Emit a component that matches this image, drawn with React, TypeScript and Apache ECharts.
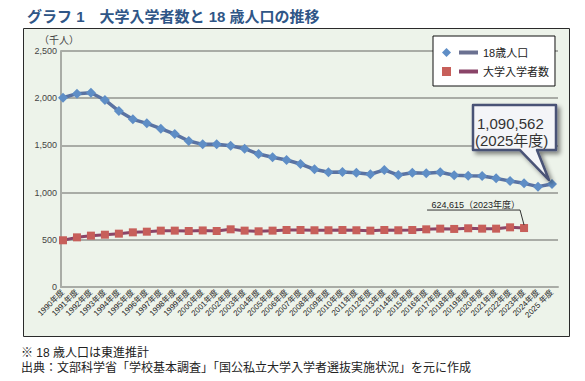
import React, { useEffect, useRef } from 'react';
import * as echarts from 'echarts';

const categories = [
  '1990年度', '1991年度', '1992年度', '1993年度', '1994年度', '1995年度', '1996年度', '1997年度', '1998年度',
  '1999年度', '2000年度', '2001年度', '2002年度', '2003年度', '2004年度', '2005年度', '2006年度', '2007年度',
  '2008年度', '2009年度', '2010年度', '2011年度', '2012年度', '2013年度', '2014年度', '2015年度', '2016年度',
  '2017年度', '2018年度', '2019年度', '2020年度', '2021年度', '2022年度', '2023年度', '2024年度', '2025 年度',
];

// 18歳人口 (千人)
const pop18 = [
  2005, 2048, 2058, 1981, 1864, 1776, 1734, 1677, 1620, 1547, 1511, 1511, 1497, 1465, 1409, 1374, 1345, 1303,
  1247, 1215, 1218, 1211, 1194, 1240, 1186, 1211, 1204, 1215, 1183, 1179, 1176, 1151, 1123, 1098, 1063, 1090.562,
];

// 大学入学者数 (千人), 1990–2023
const entrants = [
  495, 526, 544, 554, 565, 579, 586, 597, 597, 593, 599, 593, 611, 597, 590, 597, 604,
  604, 601, 601, 604, 601, 597, 604, 601, 604, 611, 618, 615, 622, 618, 618, 632, 624.615,
];

const yTicks = [0, 500, 1000, 1500, 2000, 2500];

const FONT = "'Liberation Sans', 'Noto Sans CJK JP', sans-serif";
const GRID = '#a9aca6';

export default function App() {
  const ref = useRef<HTMLDivElement>(null);
  useEffect(() => {
    if (!ref.current) return;
    const chart = echarts.init(ref.current, undefined, { renderer: 'svg' });
    const option: any = {
      animation: false,
      textStyle: { fontFamily: FONT },
      title: [
        {
          text: 'グラフ 1　大学入学者数と 18 歳人口の推移',
          left: 22,
          top: 4,
          textStyle: { fontSize: 15, fontWeight: 'bold', color: '#2f5687', fontFamily: FONT },
        },
        {
          text: '※ 18 歳人口は東進推計\n出典：文部科学省「学校基本調査」「国公私立大学入学者選抜実施状況」を元に作成',
          left: 21,
          top: 345,
          padding: 0,
          textStyle: { fontSize: 12, fontWeight: 'normal', color: '#222', lineHeight: 15, fontFamily: FONT },
        },
      ],
      grid: [
        { left: 61, right: 27, top: 51, bottom: 94 },
        { left: 63, right: 33, top: 51, bottom: 94 },
      ],
      xAxis: [
        {
          gridIndex: 0, type: 'category', data: categories, boundaryGap: false,
          axisLine: { lineStyle: { color: GRID, width: 2 } },
          axisTick: { show: false }, axisLabel: { show: false }, splitLine: { show: false },
        },
        {
          gridIndex: 1, type: 'category', data: categories, boundaryGap: false,
          axisLine: { show: false }, axisTick: { show: false }, splitLine: { show: false },
          axisLabel: { interval: 0, rotate: 45, fontSize: 8, color: '#1e1e1e', margin: 4, fontFamily: FONT },
        },
      ],
      yAxis: [
        {
          gridIndex: 0, type: 'value', min: yTicks[0], max: yTicks[yTicks.length - 1], interval: 500,
          axisLine: { show: true, lineStyle: { color: GRID, width: 2 } },
          axisTick: { show: false },
          axisLabel: {
            fontSize: 9, color: '#444', margin: 4, fontFamily: FONT,
            formatter: (v: number) => v.toLocaleString('en-US'),
          },
          splitLine: { show: true, lineStyle: { color: GRID, width: 2 } },
        },
        {
          gridIndex: 1, type: 'value', min: yTicks[0], max: yTicks[yTicks.length - 1], interval: 500, show: false,
          splitLine: { show: false },
        },
      ],
      legend: [
        {
          orient: 'vertical', left: 433, top: 36, z: 4,
          backgroundColor: '#ffffff', borderColor: '#111', borderWidth: 1, borderRadius: 0,
          padding: [10, 6, 8, 26], itemGap: 6, itemWidth: 19, itemHeight: 4,
          textStyle: { fontSize: 11, color: '#222', lineHeight: 13, fontFamily: FONT },
          data: [
            { name: '18歳人口', icon: 'rect', itemStyle: { color: '#6b7191' } },
            { name: '大学入学者数', icon: 'rect', itemStyle: { color: '#8a4468' } },
          ],
        },
        {
          orient: 'vertical', left: 442, top: 48, z: 6, padding: 0,
          itemGap: 10, itemWidth: 9, itemHeight: 9,
          formatter: () => '',
          data: [
            { name: '18歳人口', icon: 'diamond' },
            { name: '大学入学者数', icon: 'rect' },
          ],
        },
      ],
      series: [
        {
          name: '18歳人口', type: 'line', xAxisIndex: 1, yAxisIndex: 1, data: pop18,
          symbol: 'diamond', symbolSize: 10, showAllSymbol: true, z: 3,
          itemStyle: { color: '#5f8ec6' },
          lineStyle: { color: '#5a73a3', width: 3.5 },
        },
        {
          name: '大学入学者数', type: 'line', xAxisIndex: 1, yAxisIndex: 1, data: entrants,
          symbol: 'rect', symbolSize: 8, showAllSymbol: true, z: 3,
          itemStyle: { color: '#c75f5a' },
          lineStyle: { color: '#8c4567', width: 3 },
        },
      ],
    };
    chart.setOption(option);

    const i25 = pop18.length - 1;
    const i23 = entrants.length - 1;
    const p25 = chart.convertToPixel({ xAxisIndex: 1, yAxisIndex: 1 }, [i25, pop18[i25]]) as number[];
    const p23 = chart.convertToPixel({ xAxisIndex: 1, yAxisIndex: 1 }, [i23, entrants[i23]]) as number[];
    const [tx, ty] = p25;
    const L = tx - 79, R = tx + 4, T = ty - 79, B = ty - 34;
    const [ax, ay] = p23;

    chart.setOption({
      graphic: [
        {
          type: 'rect', z: -1, silent: true,
          shape: { x: 23.5, y: 28.5, width: 546, height: 308 },
          style: { fill: '#edf3ea', stroke: '#2a2a2a', lineWidth: 1 },
        },
        {
          type: 'text', z: 5, silent: true, x: 39, y: 40,
          style: { text: '（千人）', fontSize: 10, fill: '#444', fontFamily: FONT, verticalAlign: 'middle', align: 'left' },
        },
        {
          type: 'polygon', z: 10, silent: true,
          shape: { points: [[L, T], [R, T], [R, B], [tx - 15, B], [tx - 3, ty - 4], [tx - 32, B], [L, B]] },
          style: {
            fill: '#f4f5f8', stroke: '#4a5276', lineWidth: 2.5, lineJoin: 'round',
            shadowBlur: 4, shadowColor: 'rgba(0,0,0,0.45)', shadowOffsetX: 3, shadowOffsetY: 3,
          },
        },
        {
          type: 'text', z: 11, silent: true, x: L + 4, y: ty - 61,
          style: { text: '1,090,562', fontSize: 15, fill: '#333', fontFamily: FONT, verticalAlign: 'middle', align: 'left' },
        },
        {
          type: 'text', z: 11, silent: true, x: L + 2, y: ty - 44,
          style: { text: '(2025年度)', fontSize: 15, fill: '#333', fontFamily: FONT, verticalAlign: 'middle', align: 'left' },
        },
        {
          type: 'polyline', z: 10, silent: true,
          shape: { points: [[ax - 97, ay - 18], [ax - 4, ay - 18], [ax, ay - 3]] },
          style: { stroke: '#333', lineWidth: 1, fill: null },
        },
        {
          type: 'text', z: 11, silent: true, x: ax - 4, y: ay - 19,
          style: { text: '624,615（2023年度）', fontSize: 9, fill: '#222', fontFamily: FONT, verticalAlign: 'bottom', align: 'right' },
        },
      ],
    });

    return () => chart.dispose();
  }, []);

  return <div ref={ref} style={{ position: 'fixed', left: 0, top: 0, width: 585, height: 381, background: '#fff' }} />;
}
